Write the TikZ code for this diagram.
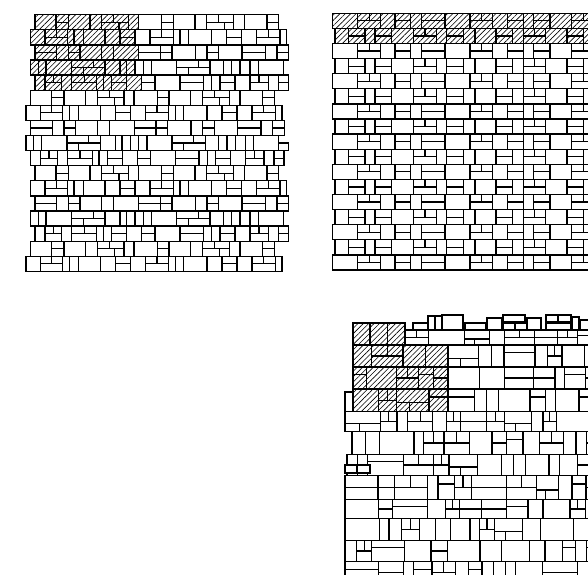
\documentclass[tikz,border=0pt]{standalone}
\usetikzlibrary{patterns.meta}
\newcommand\rowh{15.1}
\newcommand\blkB[3]{\draw[cur] (#1,#2) rectangle ++(#3,\rowh);}
\newcommand\blkS[3]{\blkB{#1}{#2}{#3}}
\newcommand\blkN[3]{\blkB{#1}{#2}{#3}}
\newcommand\blkH[3]{\draw[cur] (#1,#2) rectangle ++(#3,\rowh/2);\draw[cur] (#1,#2+\rowh/2) rectangle ++(#3,\rowh/2);}
\newcommand\blkT[3]{\draw[cur] (#1,#2) rectangle ++(#3/2,\rowh/2);\draw[cur] (#1+#3/2,#2) rectangle ++(#3/2,\rowh/2);\draw[cur] (#1,#2+\rowh/2) rectangle ++(#3,\rowh/2);}
\newcommand\blkW[3]{\draw[cur] (#1,#2) rectangle ++(#3*0.45,\rowh/2);\draw[cur] (#1+#3*0.45,#2) rectangle ++(#3*0.55,\rowh/2);\draw[cur] (#1,#2+\rowh/2) rectangle ++(#3*0.65,\rowh/2);\draw[cur] (#1+#3*0.65,#2+\rowh/2) rectangle ++(#3*0.35,\rowh/2);}
\newcommand\blkX[3]{\draw[cur] (#1,#2) rectangle ++(#3*0.65,\rowh/2);\draw[cur] (#1+#3*0.65,#2) rectangle ++(#3*0.35,\rowh/2);\draw[cur] (#1,#2+\rowh/2) rectangle ++(#3*0.35,\rowh/2);\draw[cur] (#1+#3*0.35,#2+\rowh/2) rectangle ++(#3*0.65,\rowh/2);}
\newcommand\stonerow[4]{%
  \xdef\stx{#1}%
  \foreach \bt/\bw in #4 {%
    \pgfmathsetmacro\stn{\stx+\bw}%
    \ifdim\stn pt<#3pt\relax\tikzset{cur/.style={hatchst}}\else\tikzset{cur/.style={plainst}}\fi
    \csname blk\bt\endcsname{\stx}{#2}{\bw}%
    \xdef\stx{\stn}%
  }}
% random block for the irregular panel
\newcommand\rblk[4]{%
  \pgfmathtruncatemacro\rtype{(#3<13)?int(rnd*2)*6:((#3<22)?int(rnd*2)*3+int(rnd*2):int(rnd*8))}%
  \ifcase\rtype
    \draw[cur] (#1,#2) rectangle ++(#3,#4);
  \or
    \draw[cur] (#1,#2) rectangle ++(#3,#4/2);\draw[cur] (#1,#2+#4/2) rectangle ++(#3,#4/2);
  \or
    \draw[cur] (#1,#2) rectangle ++(#3/2,#4);\draw[cur] (#1+#3/2,#2) rectangle ++(#3/2,#4);
  \or
    \draw[cur] (#1,#2) rectangle ++(#3,#4*0.35);\draw[cur] (#1,#2+#4*0.35) rectangle ++(#3,#4*0.65);
  \or
    \draw[cur] (#1,#2) rectangle ++(#3/2,#4/2);\draw[cur] (#1+#3/2,#2) rectangle ++(#3/2,#4/2);\draw[cur] (#1,#2+#4/2) rectangle ++(#3,#4/2);
  \or
    \draw[cur] (#1,#2) rectangle ++(#3,#4*0.6);\draw[cur] (#1,#2+#4*0.6) rectangle ++(#3*0.4,#4*0.4);\draw[cur] (#1+#3*0.4,#2+#4*0.6) rectangle ++(#3*0.6,#4*0.4);
  \else
    \draw[cur] (#1,#2) rectangle ++(#3,#4);
  \fi}
\newcommand\fillseg[4]{% xa xb y h
  \xdef\sgx{#1}%
  \loop
    \pgfmathsetmacro\sgw{9+rnd*27}%
    \pgfmathsetmacro\sgr{#2-\sgx}%
    \pgfmathsetmacro\sgw{(\sgr-\sgw<9)?\sgr:\sgw}%
    \rblk{\sgx}{#3}{\sgw}{#4}%
    \pgfmathsetmacro\sgn{\sgx+\sgw}%
    \xdef\sgx{\sgn}%
  \ifdim\sgx pt<\dimexpr#2pt-0.5pt\relax
  \repeat}
\begin{document}
\begin{tikzpicture}[x=1pt,y=-1pt,
  plainst/.style={draw=black,line width=1.25pt,fill=white},
  hatchst/.style={draw=black,line width=1.25pt,pattern={Lines[angle=45,distance=3.8pt,line width=0.6pt]}},
  cur/.style={plainst}]
\useasboundingbox (0,0) rectangle (588,574);
\fill[white] (0,0) rectangle (588,574);
\clip (0,0) rectangle (588,574);
% ---------- panel 1 ----------
\def\rowA{B/21,H/12.3,B/21.7,S/11.7,W/26.7,S/10,B/23.3,H/11.7,B/21.7,S/11.7,W/26.7,S/10.7,B/22.7,H/11.7}
\def\rowB{S/14.3,T/22.3,N/6.7,N/9.3,B/21.7,S/15,H/15,S/15,T/23.3,N/6.7,N/8.3,B/23.3,S/15,H/15,S/15,T/23.3,N/6.7}
\def\rowC{H/21.7,S/11.7,H/11.7,B/21.7,S/11.7,B/25,H/21.7,H/11.7,B/23.3,S/11.7,H/11.7,B/23.3,H/23.3,S/11.7,H/11.7}
\def\rowD{N/7.7,N/7.7,B/25.7,X/33.3,S/15,N/6.7,N/8.3,N/8.3,N/8.3,B/25,X/33.3,S/13.3,N/8.3,N/8.3,N/10,N/8.3,B/25}
\def\rowE{S/10,T/16.7,S/10,T/25,N/6.7,N/8.3,H/15,S/15,H/13.3,B/25,H/23.3,N/8.3,N/8.3,H/15,S/15,T/18.3,S/10,H/10}
\stonerow{35}{14.7}{143}{\rowA}
\stonerow{30.7}{29.8}{143}{\rowB}
\stonerow{35}{44.9}{143}{\rowC}
\stonerow{30.7}{60.0}{143}{\rowD}
\stonerow{35}{75.1}{143}{\rowE}
\stonerow{30.7}{90.2}{0}{\rowA}
\stonerow{26}{105.3}{0}{\rowB}
\stonerow{30.7}{120.4}{0}{\rowC}
\stonerow{26}{135.5}{0}{\rowD}
\draw[plainst] (278.5,143) rectangle ++(10,7.5);
\stonerow{30.7}{150.6}{0}{\rowE}
\stonerow{35}{165.7}{0}{\rowA}
\stonerow{30.7}{180.8}{0}{\rowB}
\stonerow{35}{195.9}{0}{\rowC}
\stonerow{30.7}{211.0}{0}{\rowD}
\stonerow{35}{226.1}{0}{\rowE}
\stonerow{30.7}{241.2}{0}{\rowA}
\stonerow{26}{256.3}{0}{\rowB}
% ---------- panel 2 ----------
\def\rowP{B/25,T/23,S/14.3,H/15.7,S/11,H/23.3,B/25,T/22.7,S/14.7,H/16,S/10,H/16.7,B/21.7,T/23,S/14,H/16}
\def\rowQ{S/13.3,H/16.7,S/10,H/16.7,B/21.7,T/23.3,S/10,H/16.7,S/11.7,B/21,H/16.7,S/10.7,T/21.7,B/21.7,H/16.7,S/10,H/16.7}
\foreach \k in {0,...,16}{%
  \pgfmathsetmacro\yy{13.3+\k*15.1}%
  \pgfmathtruncatemacro\hl{(\k<2)?1000:0}%
  \ifodd\k \stonerow{335}{\yy}{\hl}{\rowQ}\else\stonerow{332.7}{\yy}{\hl}{\rowP}\fi
}
% ---------- panel 3 ----------
\pgfmathsetseed{4242}
\tikzset{cur/.style={plainst}}
\foreach \ax/\ay/\aw/\ah in {413/323/15/7,428/316/7/14,435/316/6.5/14,442/315/21/15,465/323/21/7,487/318/15/12,503/315/22/7,503/323/12/7,515/323/16/7,527/318/14/12,546/315/12/7,558/315/13/7,546/323/25/7,572/317/7/13,580/320/10/10}
  {\draw[plainst] (\ax,\ay) rectangle ++(\aw,\ah);}
\tikzset{cur/.style={hatchst}}
\fillseg{353}{405}{323}{22}
\fillseg{353}{448}{345}{22}
\fillseg{353}{448}{367}{22}
\fillseg{353}{448}{389}{22.5}
\tikzset{cur/.style={plainst}}
\fillseg{405}{600}{330}{15}
\fillseg{448}{600}{345}{22}
\fillseg{448}{600}{367}{22}
\fillseg{448}{600}{389}{22.5}
\draw[plainst] (345,392) rectangle ++(8,19.5);
\fillseg{345}{600}{411.5}{20}
\fillseg{352}{600}{431.5}{23}
\fillseg{347}{600}{454.5}{21}
\draw[plainst] (345,465) rectangle ++(12,8);
\draw[plainst] (357,465) rectangle ++(13,8);
\fillseg{345}{600}{475.5}{24}
\fillseg{345}{600}{499.5}{19}
\fillseg{345}{600}{518.5}{22}
\fillseg{345}{600}{540.5}{21}
\fillseg{345}{600}{561.5}{22}
\end{tikzpicture}
\end{document}
